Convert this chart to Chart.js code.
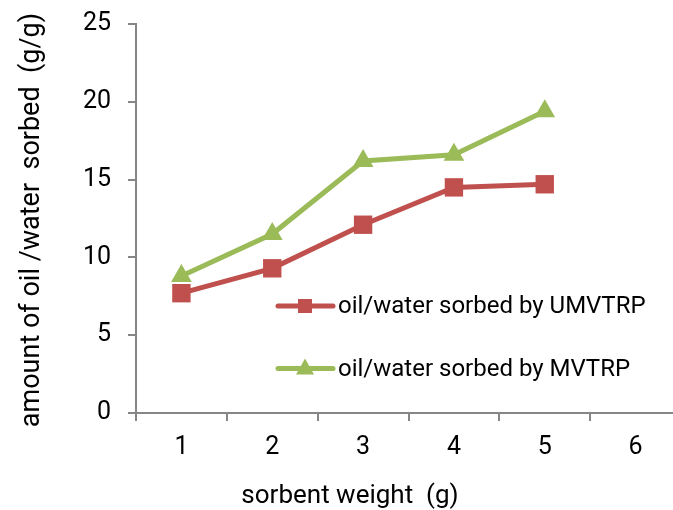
<!DOCTYPE html>
<html>
<head>
<meta charset="utf-8">
<script src="https://cdn.jsdelivr.net/npm/chart.js@4.4.1/dist/chart.umd.min.js"></script>
<style>
  html, body { margin: 0; padding: 0; background: #fff; overflow: hidden; }
  #frame { width: 673px; height: 510px; overflow: hidden; position: relative; }
  canvas { display: block; }
</style>
</head>
<body>
<div id="frame"><canvas id="c" width="694" height="510"></canvas></div>
<script>
// Sorbent weight (g) categories and sorption capacity (g/g)
const weights = ['1', '2', '3', '4', '5', '6'];
const umvtrp = [7.7, 9.3, 12.1, 14.5, 14.7, null];
const mvtrp = [8.8, 11.5, 16.2, 16.6, 19.4, null];
const seriesNames = ['oil/water sorbed by UMVTRP', 'oil/water sorbed by MVTRP'];
const yTitle = 'amount of oil /water  sorbed  (g/g)';
const xTitle = 'sorbent weight  (g)';

const RED = '#C0504D';
const GREEN = '#9BBB59';
const AXIS = '#868686';
const FONT = "Roboto, 'Liberation Sans', Arial, sans-serif";

// Legend drawn inside the plot area, plus both axis titles
const insideLegend = {
  id: 'insideLegend',
  afterDraw(chart) {
    const ctx = chart.ctx;
    const a = chart.chartArea;
    ctx.save();
    ctx.font = '24px ' + FONT;
    ctx.textBaseline = 'middle';
    chart.data.datasets.forEach((ds, i) => {
      const y = a.top + 282 + i * 62.5;
      const x0 = a.left + 142;
      ctx.strokeStyle = ds.borderColor;
      ctx.lineWidth = 5;
      ctx.lineCap = 'round';
      ctx.beginPath();
      ctx.moveTo(x0, y);
      ctx.lineTo(x0 + 55, y);
      ctx.stroke();
      ctx.fillStyle = ds.borderColor;
      ctx.beginPath();
      const cx = x0 + 27;
      if (ds.pointStyle === 'rect') {
        const r = 7;
        ctx.rect(cx - r, y - r, 2 * r, 2 * r);
      } else {
        ctx.moveTo(cx, y - 10);
        ctx.lineTo(cx + 9, y + 6);
        ctx.lineTo(cx - 9, y + 6);
        ctx.closePath();
      }
      ctx.fill();
      ctx.fillStyle = '#000';
      ctx.textAlign = 'left';
      ctx.fillText(ds.label, x0 + 60, y + 1);
    });
    ctx.font = '26px ' + FONT;
    ctx.textAlign = 'center';
    ctx.textBaseline = 'middle';
    ctx.fillText(xTitle, 350, 496);
    ctx.font = '27px ' + FONT;
    ctx.translate(32, 220);
    ctx.rotate(-Math.PI / 2);
    ctx.fillText(yTitle, 0, 0);
    ctx.restore();
  }
};

new Chart(document.getElementById('c'), {
  type: 'line',
  data: {
    labels: weights,
    datasets: [
      {
        label: seriesNames[0], data: umvtrp,
        borderColor: RED, backgroundColor: RED, borderWidth: 5,
        pointStyle: 'rect', pointRadius: 13, pointHoverRadius: 13,
        pointBorderWidth: 0, tension: 0
      },
      {
        label: seriesNames[1], data: mvtrp,
        borderColor: GREEN, backgroundColor: GREEN, borderWidth: 5,
        pointStyle: 'triangle', pointRadius: 12, pointHoverRadius: 12,
        pointBorderWidth: 0, tension: 0
      }
    ]
  },
  options: {
    responsive: false,
    animation: false,
    events: [],
    layout: { padding: { top: 24, left: 0, right: 0, bottom: 0 } },
    plugins: { legend: { display: false }, tooltip: { enabled: false } },
    scales: {
      x: {
        type: 'category',
        offset: true,
        grid: { offset: true, drawOnChartArea: false, color: AXIS, lineWidth: 2, tickLength: 8 },
        border: { color: AXIS, width: 2 },
        ticks: { color: '#000', font: { family: FONT, size: 25 }, padding: 12, maxRotation: 0 },
        afterFit(s) { s.height = 97; s.paddingLeft = 0; s.paddingRight = 0; }
      },
      y: {
        min: 0, max: 25,
        ticks: { stepSize: 5, color: '#000', font: { family: FONT, size: 25 }, padding: 17 },
        grid: { drawOnChartArea: false, color: AXIS, lineWidth: 2, tickLength: 8 },
        border: { color: AXIS, width: 2 },
        afterFit(s) { s.width = 136; s.paddingTop = 0; s.paddingBottom = 0; }
      }
    }
  },
  plugins: [insideLegend]
});
</script>
</body>
</html>
